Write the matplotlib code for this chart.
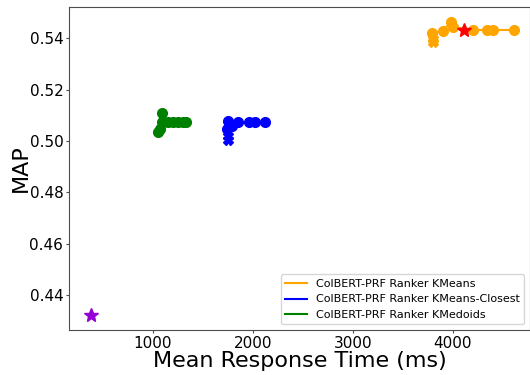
import numpy as np
import matplotlib.pyplot as plt
from matplotlib.lines import Line2D

# ColBERT-PRF Ranker KMeans (orange)
km_x = [3790, 3900, 3980, 4005, 4200, 4340, 4400, 4610]
km_y = [0.5421, 0.5427, 0.5465, 0.5444, 0.5432, 0.5432, 0.5432, 0.5432]
km_x2 = [3800, 3805]
km_y2 = [0.5386, 0.5395]

# ColBERT-PRF Ranker KMeans-Closest (blue)
kc_x = [1740, 1750, 1790, 1850, 1960, 2020, 2120]
kc_y = [0.5046, 0.5078, 0.5060, 0.5072, 0.5072, 0.5072, 0.5072]
kc_x2 = [1750, 1755]
kc_y2 = [0.5003, 0.5018]

# ColBERT-PRF Ranker KMedoids (green)
kd_x = [1050, 1075, 1100, 1150, 1200, 1250, 1300, 1330]
kd_y = [0.5035, 0.5045, 0.5072, 0.5072, 0.5072, 0.5072, 0.5072, 0.5072]
kd_x2 = [1087, 1095]
kd_y2 = [0.5110, 0.5072]

# baselines
base_red = (4110, 0.5432)
base_purple = (377, 0.4322)

labels = ["ColBERT-PRF Ranker KMeans", "ColBERT-PRF Ranker KMeans-Closest",
          "ColBERT-PRF Ranker KMedoids"]
colors = ["orange", "blue", "green"]

fig = plt.figure(figsize=(5.3, 3.75), dpi=100)
ax = fig.add_axes([0.130, 0.12, 0.87, 0.861])

ms = 7
ax.plot(km_x, km_y, color="orange", marker="o", markersize=ms)
ax.plot(km_x2, km_y2, color="orange", marker="X", markersize=ms, linestyle="none")
ax.plot(kc_x, kc_y, color="blue", marker="o", markersize=ms)
ax.plot(kc_x2, kc_y2, color="blue", marker="X", markersize=ms, linestyle="none")
ax.plot(kd_x, kd_y, color="green", marker="o", markersize=ms)
ax.plot(kd_x2, kd_y2, color="green", marker="o", markersize=ms)
ax.plot(*base_red, color="red", marker="*", markersize=10, linestyle="none")
ax.plot(*base_purple, color="darkviolet", marker="*", markersize=10, linestyle="none")

ax.set_xlim(160, 4770)
ax.set_ylim(0.4264, 0.5521)
ax.set_xticks([1000, 2000, 3000, 4000])
ax.set_yticks([0.44, 0.46, 0.48, 0.50, 0.52, 0.54])
ax.tick_params(labelsize=11, length=2, pad=2, color="0.3")
ax.set_xlabel("Mean Response Time (ms)", fontsize=16, labelpad=0)
ax.set_ylabel("MAP", fontsize=16, labelpad=-1)
for s in ax.spines.values():
    s.set_color("0.3")

handles = [Line2D([0], [0], color=c) for c in colors]
ax.legend(handles, labels, loc="lower right", fontsize=8)

fig.savefig("out.png")
